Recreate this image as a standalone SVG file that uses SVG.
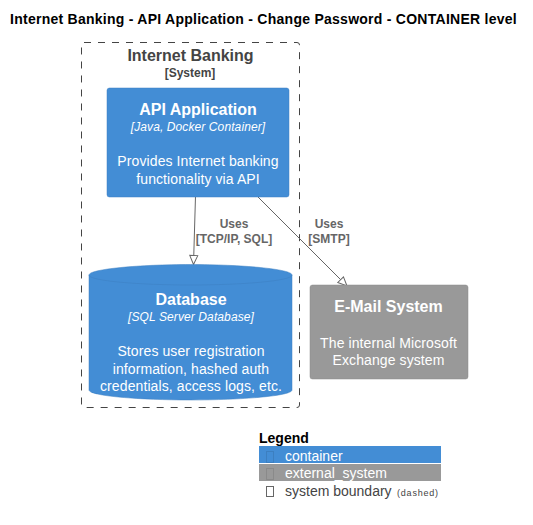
<svg xmlns="http://www.w3.org/2000/svg" width="533" height="525" viewBox="0 0 533 525">
<style>
text{font-family:"Liberation Sans",Arial,sans-serif}
.w{fill:#fff;text-anchor:middle}
.t{font-size:16px;font-weight:bold}
.i{font-size:12px;font-style:italic;letter-spacing:.1px}
.d{font-size:14px;letter-spacing:.1px}
.g{fill:#444;text-anchor:middle;font-weight:bold}
.l{font-size:12px;font-weight:bold;fill:#666;text-anchor:middle}
.leg{font-size:14px}
.c{fill:none;stroke:#666;stroke-width:1}
</style>
<defs>
<marker id="a" markerWidth="12" markerHeight="12" refX="9" refY="4" orient="auto" markerUnits="userSpaceOnUse" overflow="visible">
<path d="M0,0L9,4L0,8Z" fill="#fff" stroke="#666"/>
</marker>
</defs>
<rect width="533" height="525" fill="#fff"/>
<text x="10" y="24" font-size="14" font-weight="bold" fill="#000" letter-spacing=".26">Internet Banking - API Application - Change Password - CONTAINER level</text>
<g id="boundary">
<rect x="81.500" y="42.500" width="218" height="365" rx="2.500" fill="none" stroke="#444" stroke-dasharray="7 7"/>
<text class="g" x="190.500" y="61" font-size="16">Internet Banking</text>
<text class="g" x="190" y="77" font-size="12">[System]</text>
</g>
<g id="connectors">
<path class="c" d="M195.500,196L193.500,264.500" marker-end="url(#a)"/>
<path class="c" d="M257,196L347,286" marker-end="url(#a)"/>
<text class="l" x="234" y="228">Uses</text>
<text class="l" x="234" y="243">[TCP/IP, SQL]</text>
<text class="l" x="329" y="228">Uses</text>
<text class="l" x="329" y="243">[SMTP]</text>
</g>
<g id="api">
<rect x="107" y="88" width="182" height="109" rx="2.500" fill="#438dd5" stroke="#3c7fc0" stroke-width=".5"/>
<text class="w t" x="198" y="115">API Application</text>
<text class="w i" x="198" y="131">[Java, Docker Container]</text>
<text class="w d" x="198" y="166">Provides Internet banking</text>
<text class="w d" x="198" y="184">functionality via API</text>
</g>
<g id="database">
<path d="M89,275C89,269 140,264.500 190.500,264.500C241,264.500 292,269 292,275V390C292,396 241,400 190.500,400C140,400 89,396 89,390Z" fill="#438dd5" stroke="#3c7fc0" stroke-width=".5"/>
<path d="M89,275C89,281 140,285 190.500,285C241,285 292,281 292,275" fill="none" stroke="#3c7fc0" stroke-width=".5"/>
<text class="w t" x="191" y="305">Database</text>
<text class="w i" x="191" y="321">[SQL Server Database]</text>
<text class="w d" x="191" y="356">Stores user registration</text>
<text class="w d" x="191" y="374">information, hashed auth</text>
<text class="w d" x="191" y="391">credentials, access logs, etc.</text>
</g>
<g id="email">
<rect x="310" y="285" width="158" height="94" rx="2.500" fill="#999" stroke="#8a8a8a" stroke-width=".5"/>
<text class="w t" x="388.500" y="312">E-Mail System</text>
<text class="w d" x="388.500" y="348">The internal Microsoft</text>
<text class="w d" x="388.500" y="365">Exchange system</text>
</g>
<g id="legend">
<text x="259" y="443" font-size="14" font-weight="bold" fill="#000">Legend</text>
<rect x="259" y="446" width="182" height="17" fill="#438dd5"/>
<rect x="259" y="464" width="182" height="17" fill="#999"/>
<rect x="266.500" y="451.500" width="7" height="11" fill="none" stroke="#3c7fc0"/>
<rect x="266.500" y="468.500" width="7" height="11" fill="none" stroke="#8a8a8a"/>
<rect x="266.500" y="486.500" width="7" height="10" fill="none" stroke="#666"/>
<text class="leg" x="285" y="461" fill="#fff">container</text>
<text class="leg" x="285" y="478" fill="#fff">external_system</text>
<text class="leg" x="285" y="496" fill="#444">system boundary <tspan x="397" font-size="9" letter-spacing=".8">(dashed)</tspan></text>
</g>
</svg>
